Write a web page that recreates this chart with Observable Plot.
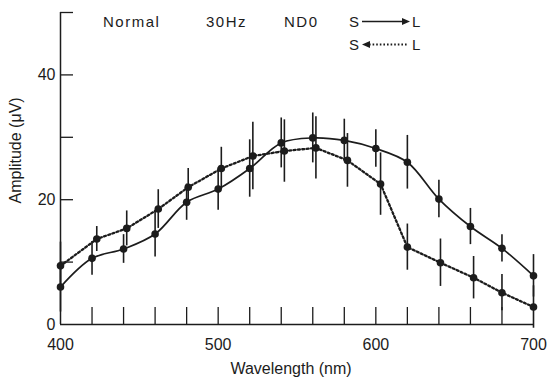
<!DOCTYPE html>
<html><head><meta charset="utf-8">
<script src="https://cdn.jsdelivr.net/npm/d3@7"></script>
<script src="https://cdn.jsdelivr.net/npm/@observablehq/plot@0.6"></script>
<style>
body{margin:0;background:#fff;}
#chart{width:548px;height:379px;position:relative;}
</style></head><body><div id="chart"></div>
<script>
// S -> L (solid) series
const wavelength = [400,420,440,460,480,500,520,540,560,580,600,620,640,660,680,700];
const slVals = [6.0,10.6,12.1,14.5,19.6,21.7,25.0,29.1,29.9,29.5,28.2,26.0,20.1,15.7,12.2,7.8];
const slErr  = [4.0,2.7,2.3,3.7,2.9,3.4,4.6,4.0,4.0,3.4,3.0,4.3,3.0,2.9,2.2,3.4];
// S <- L (dotted) series
const lsWave = [400,423,442,462,481,502,522,542,562,582,603,620,641,662,680,700];
const lsVals = [9.4,13.7,15.4,18.5,22.0,25.0,27.0,27.8,28.3,26.3,22.5,12.4,9.9,7.5,5.1,2.8];
const lsErr  = [3.8,2.0,2.8,3.1,3.0,3.4,5.4,5.0,5.0,4.3,5.0,3.7,3.8,3.4,2.9,3.4];
// ticks and labels
const xTicks = [420,440,460,480,500,520,540,560,580,600,620,640,660,680];
const xLabels = [400,500,600,700];
const yTicks = [10,20,30,40,50];
const yLabels = [0,20,40];
const xTitle = "Wavelength (nm)";
const yTitle = "Amplitude (μV)";
const headings = ["Normal","30Hz","ND0"];

const ink = "#1c1c1c";
const font = "'Liberation Sans', Arial, sans-serif";
const slData = wavelength.map((w,i)=>({w, v: slVals[i], e: slErr[i]}));
const lsData = lsWave.map((w,i)=>({w, v: lsVals[i], e: lsErr[i]}));

const plot = Plot.plot({
  width:548, height:379,
  marginTop:12, marginBottom:55, marginLeft:60, marginRight:15,
  style:{fontFamily:font, fontSize:"16px", color:ink, background:"#fff"},
  x:{domain:[400,700]},
  y:{domain:[0,50]},
  marks:[
    Plot.ruleX([400],{stroke:ink,strokeWidth:1.5}),
    Plot.ruleY([0],{stroke:ink,strokeWidth:1.5}),
    Plot.axisX(xTicks,{tickSize:-17, tickFormat:()=>"", label:null, stroke:ink, strokeWidth:1.3}),
    Plot.axisX(xLabels,{tickSize:0, tickPadding:14, label:null, fontSize:16, fill:ink}),
    Plot.axisY(yTicks,{tickSize:-13, tickFormat:()=>"", label:null, stroke:ink, strokeWidth:1.3}),
    Plot.axisY(yLabels,{tickSize:0, tickPadding:5, label:null, fontSize:16, fill:ink}),
    Plot.ruleX(slData,{x:"w", y1:d=>d.v-d.e, y2:d=>d.v+d.e, stroke:ink, strokeWidth:1.6}),
    Plot.ruleX(lsData,{x:"w", y1:d=>d.v-d.e, y2:d=>d.v+d.e, stroke:ink, strokeWidth:1.6}),
    Plot.line(slData,{x:"w", y:"v", curve:"catmull-rom", stroke:ink, strokeWidth:1.7}),
    Plot.line(lsData,{x:"w", y:"v", stroke:ink, strokeWidth:2.3, strokeDasharray:"2,2.4"}),
    Plot.dot(slData,{x:"w", y:"v", r:3.8, fill:ink}),
    Plot.dot(lsData,{x:"w", y:"v", r:3.8, fill:ink}),
    Plot.text([yTitle],{frameAnchor:"left", rotate:-90, dx:-45, dy:35, fontSize:16, fill:ink, letterSpacing:"1px"}),
    Plot.text([xTitle],{frameAnchor:"bottom", dx:-6, dy:44, fontSize:16, fill:ink, lineAnchor:"middle", letterSpacing:"1px"})
  ]
});
document.getElementById("chart").appendChild(plot);

// legend / headings
const svg = d3.select(plot);
const g = svg.append("g").attr("fill", ink).attr("text-anchor","start")
  .style("font-family", font).style("font-size","15px").style("letter-spacing","1.5px");
const hx = [103, 206, 284];
headings.forEach((t,i)=> g.append("text").attr("x", hx[i]).attr("y", 27).text(t));
g.append("text").attr("x",349).attr("y",27).text("S");
g.append("text").attr("x",412).attr("y",27).text("L");
g.append("text").attr("x",349).attr("y",50).text("S");
g.append("text").attr("x",412).attr("y",50).text("L");
g.append("line").attr("x1",362).attr("x2",403).attr("y1",21.5).attr("y2",21.5).attr("stroke",ink).attr("stroke-width",1.6);
g.append("path").attr("d","M402,18 L410,21.5 L402,25 Z");
g.append("line").attr("x1",369).attr("x2",408).attr("y1",44.5).attr("y2",44.5).attr("stroke",ink).attr("stroke-width",2).attr("stroke-dasharray","1.6,2");
g.append("path").attr("d","M370,41 L362,44.5 L370,48 Z");
</script>
</body></html>
